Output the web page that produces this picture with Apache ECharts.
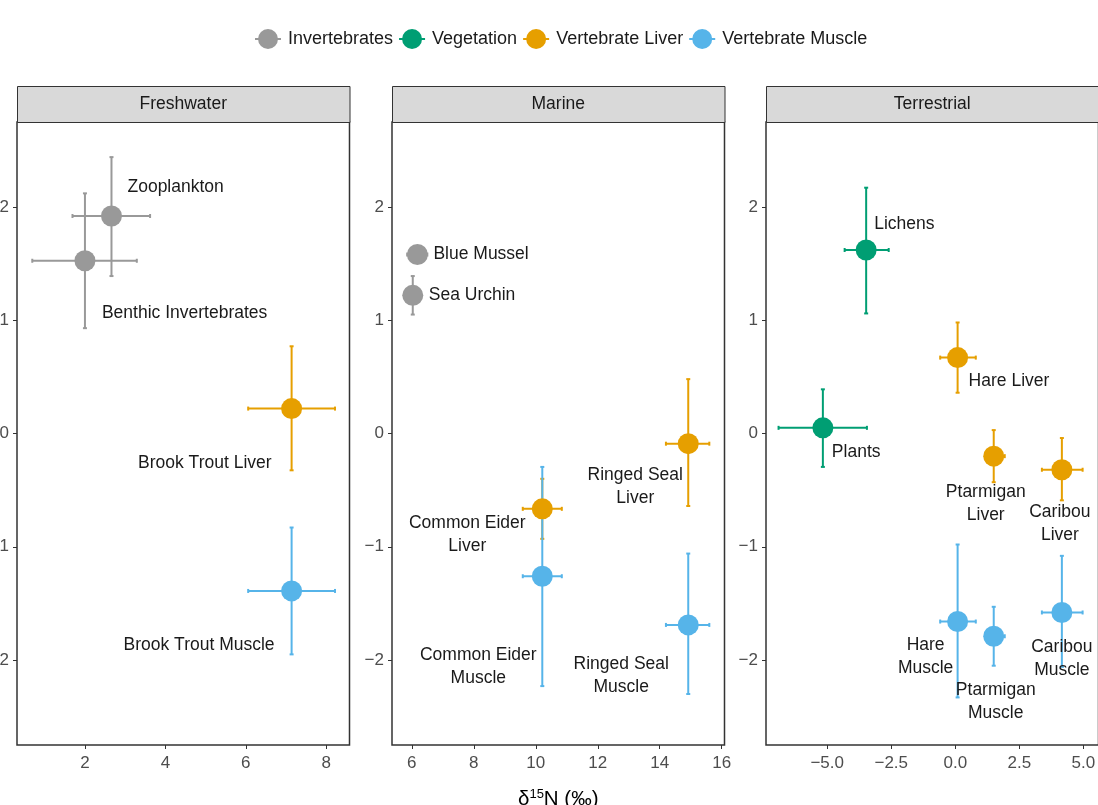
<!DOCTYPE html>
<html>
<head>
<meta charset="utf-8">
<script src="https://cdn.jsdelivr.net/npm/echarts@6/dist/echarts.min.js"></script>
<style>
  html, body { margin: 0; padding: 0; background: #fff; }
  #main { width: 1098px; height: 805px; }
</style>
</head>
<body>
<div id="main"></div>
<script>
  // ---- data ----
  var panels = ['Freshwater', 'Marine', 'Terrestrial']
  var groups = ['Invertebrates', 'Vegetation', 'Vertebrate Liver', 'Vertebrate Muscle']
  var groupColors = ['#999999', '#009E73', '#E69F00', '#56B4E9']

  var labels = ['Zooplankton', 'Benthic Invertebrates', 'Brook Trout Liver', 'Brook Trout Muscle',
    'Blue Mussel', 'Sea Urchin', 'Ringed Seal\nLiver', 'Common Eider\nLiver', 'Common Eider\nMuscle', 'Ringed Seal\nMuscle',
    'Lichens', 'Plants', 'Hare Liver', 'Ptarmigan\nLiver', 'Caribou\nLiver', 'Hare\nMuscle', 'Ptarmigan\nMuscle', 'Caribou\nMuscle']
  var panelOf = [0, 0, 0, 0, 1, 1, 1, 1, 1, 1, 2, 2, 2, 2, 2, 2, 2, 2]
  var groupOf = [0, 0, 2, 3, 0, 0, 2, 2, 3, 3, 1, 1, 2, 2, 2, 3, 3, 3]

  var xMean = [2.66, 2.0, 7.14, 7.14, 6.18, 6.03, 14.92, 10.21, 10.21, 14.92, -3.48, -5.17, 0.09, 1.5, 4.16, 0.09, 1.5, 4.16]
  var xLow = [1.69, 0.69, 6.06, 6.06, 5.85, 5.95, 14.2, 9.58, 9.58, 14.2, -4.32, -6.9, -0.59, 1.18, 3.38, -0.59, 1.18, 3.38]
  var xHigh = [3.62, 3.29, 8.22, 8.22, 6.5, 6.1, 15.6, 10.84, 10.84, 15.6, -2.6, -3.45, 0.8, 1.93, 4.97, 0.8, 1.93, 4.97]
  var yMean = [1.92, 1.525, 0.22, -1.39, 1.58, 1.22, -0.09, -0.665, -1.26, -1.69, 1.62, 0.05, 0.67, -0.2, -0.32, -1.66, -1.79, -1.58]
  var yLow = [1.39, 0.93, -0.325, -1.95, 1.55, 1.05, -0.64, -0.93, -2.23, -2.30, 1.06, -0.295, 0.36, -0.43, -0.59, -2.33, -2.05, -2.06]
  var yHigh = [2.44, 2.12, 0.77, -0.83, 1.61, 1.39, 0.48, -0.40, -0.295, -1.06, 2.17, 0.39, 0.98, 0.03, -0.04, -0.98, -1.53, -1.08]

  var yTicks = [-2, -1, 0, 1, 2]
  var xTicks = [[2, 4, 6, 8], [6, 8, 10, 12, 14, 16], [-5, -2.5, 0, 2.5, 5]]

  // ---- layout ----
  var gridLeft = [17, 392, 766]
  var gridWidth = 332.5
  var gridTop = 122
  var gridHeight = 623
  var xRange = [[0.31, 8.58], [5.36, 16.09], [-7.39, 5.59]]
  var yRange = [-2.75, 2.75]
  // label offset from the point centre: [dx, dy, align]
  var labelPos = [[16, -29, 'left'], [17, 52, 'left'], [-20, 55, 'right'], [-17, 54, 'right'],
    [16, 0, 'left'], [16, 0, 'left'], [-53, 43, 'center'], [-75, 26, 'center'], [-64, 90, 'center'], [-67, 51, 'center'],
    [8, -26, 'left'], [9, 24, 'left'], [11, 24, 'left'], [-8, 48, 'center'], [-2, 54, 'center'], [-32, 35, 'center'], [2, 65, 'center'], [0, 46, 'center']]

  var FONT = '"Liberation Sans", Arial, Helvetica, sans-serif'

  function fmtMinus(v, dec) {
    var s = dec ? Math.abs(v).toFixed(dec) : String(Math.abs(v))
    return v < 0 ? '\u2212' + s : s
  }

  var chart = echarts.init(document.getElementById('main'))

  var grids = [], xAxes = [], yAxes = [], graphics = [], series = []
  for (var p = 0; p < panels.length; p++) {
    grids.push({
      left: gridLeft[p], top: gridTop, width: gridWidth, height: gridHeight,
      show: true, borderColor: '#333333', borderWidth: 1.5, backgroundColor: '#ffffff',
      outerBoundsMode: 'none', containLabel: false
    })
    var dec = p === 2 ? 1 : 0
    xAxes.push({
      gridIndex: p, type: 'value', min: xRange[p][0], max: xRange[p][1], position: 'bottom',
      axisLine: { show: false, onZero: false },
      axisTick: { show: true, length: 4, lineStyle: { color: '#333333' }, customValues: xTicks[p] },
      axisLabel: {
        color: '#4d4d4d', fontSize: 17, fontFamily: FONT, margin: 10, customValues: xTicks[p],
        formatter: (function (d) { return function (v) { return fmtMinus(v, d) } })(dec)
      },
      splitLine: { show: false },
      name: p === 1 ? '{a|\u03b4}{s|15}{a|N (\u2030)}' : '',
      nameLocation: 'middle', nameGap: 43,
      nameTextStyle: {
        rich: {
          a: { fontSize: 20.5, fontFamily: FONT, color: '#000000' },
          s: { fontSize: 13, fontFamily: FONT, color: '#000000', padding: [0, 0, 10, 0] }
        }
      }
    })
    yAxes.push({
      gridIndex: p, type: 'value', min: yRange[0], max: yRange[1], position: 'left',
      axisLine: { show: false, onZero: false },
      axisTick: { show: true, length: 4, lineStyle: { color: '#333333' }, customValues: yTicks },
      axisLabel: {
        color: '#4d4d4d', fontSize: 17, fontFamily: FONT, margin: 8, customValues: yTicks,
        formatter: function (v) { return fmtMinus(v, 0) }
      },
      splitLine: { show: false }
    })
    // facet strip
    graphics.push({
      type: 'rect', left: gridLeft[p], top: 86, z: 10,
      shape: { width: gridWidth, height: 36 },
      style: { fill: '#d9d9d9', stroke: '#333333', lineWidth: 1 }
    })
    graphics.push({
      type: 'text', x: gridLeft[p] + gridWidth / 2, y: 104, z: 11,
      style: { text: panels[p], fill: '#1a1a1a', font: '17.5px ' + FONT, align: 'center', verticalAlign: 'middle' }
    })

    // error bars
    var barData = []
    for (var i = 0; i < labels.length; i++) {
      if (panelOf[i] !== p) continue
      barData.push([xMean[i], yMean[i], xLow[i], xHigh[i], yLow[i], yHigh[i], groupOf[i]])
    }
    series.push({
      type: 'custom', xAxisIndex: p, yAxisIndex: p, z: 2, silent: true,
      data: barData,
      renderItem: function (params, api) {
        var x = api.value(0), y = api.value(1)
        var color = groupColors[api.value(6)]
        var l = api.coord([api.value(2), y]), r = api.coord([api.value(3), y])
        var b = api.coord([x, api.value(4)]), t = api.coord([x, api.value(5)])
        var cap = 2
        var st = { stroke: color, lineWidth: 2 }
        return {
          type: 'group',
          children: [
            { type: 'line', shape: { x1: l[0], y1: l[1], x2: r[0], y2: r[1] }, style: st },
            { type: 'line', shape: { x1: b[0], y1: b[1], x2: t[0], y2: t[1] }, style: st },
            { type: 'line', shape: { x1: l[0], y1: l[1] - cap, x2: l[0], y2: l[1] + cap }, style: st },
            { type: 'line', shape: { x1: r[0], y1: r[1] - cap, x2: r[0], y2: r[1] + cap }, style: st },
            { type: 'line', shape: { x1: b[0] - cap, y1: b[1], x2: b[0] + cap, y2: b[1] }, style: st },
            { type: 'line', shape: { x1: t[0] - cap, y1: t[1], x2: t[0] + cap, y2: t[1] }, style: st }
          ]
        }
      }
    })

    // points with labels, one series per group so the legend groups them
    for (var g = 0; g < groups.length; g++) {
      var pts = []
      for (var k = 0; k < labels.length; k++) {
        if (panelOf[k] !== p || groupOf[k] !== g) continue
        pts.push({
          name: labels[k],
          value: [xMean[k], yMean[k]],
          label: {
            show: true, position: 'inside', formatter: '{b}',
            align: labelPos[k][2], verticalAlign: 'middle',
            offset: [labelPos[k][0], labelPos[k][1]]
          }
        })
      }
      if (!pts.length) continue
      series.push({
        name: groups[g], type: 'scatter', xAxisIndex: p, yAxisIndex: p, z: 3,
        symbol: 'circle', symbolSize: 21,
        itemStyle: { color: groupColors[g], opacity: 1 },
        label: { color: '#1a1a1a', fontSize: 17.5, fontFamily: FONT, lineHeight: 23 },
        emphasis: { disabled: true },
        data: pts
      })
    }
  }

  var keyIcon = 'path://M14.5,50 A48,48 0 1,1 110.5,50 A48,48 0 1,1 14.5,50 Z M0,45 H16 V55 H0 Z M109,45 H125 V55 H109 Z'

  chart.setOption({
    animation: false,
    color: groupColors,
    legend: {
      left: 250, top: 24,
      itemWidth: 26, itemHeight: 21, itemGap: 6,
      icon: keyIcon,
      textStyle: { color: '#1a1a1a', fontSize: 18, fontFamily: FONT, padding: [0, 0, 0, 2] },
      data: groups,
      selectedMode: false
    },
    grid: grids,
    xAxis: xAxes,
    yAxis: yAxes,
    graphic: graphics,
    series: series
  })
</script>
</body>
</html>
